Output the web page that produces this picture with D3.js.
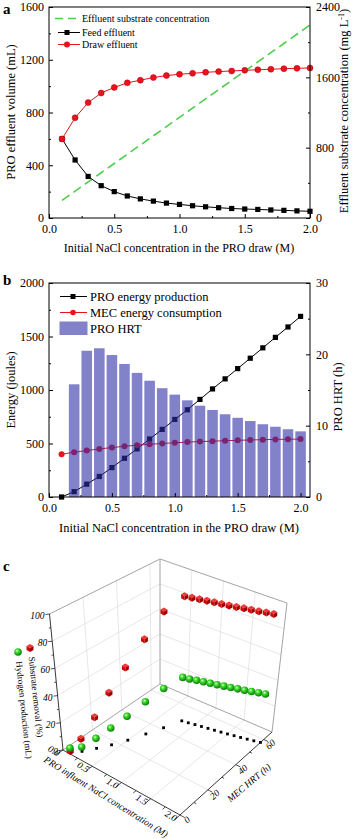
<!DOCTYPE html>
<html><head><meta charset="utf-8">
<script src="https://cdn.jsdelivr.net/npm/d3@7"></script>
<style>
body{margin:0;background:#fff}
svg{display:block}
text{font-family:"Liberation Serif","Times New Roman",serif;fill:#000}
</style></head>
<body><svg id="chart" width="359" height="839"></svg>
<script>
// ---------- DATA ----------
const nacl = [0.1,0.2,0.3,0.4,0.5,0.6,0.7,0.8,0.9,1.0,1.1,1.2,1.3,1.4,1.5,1.6,1.7,1.8,1.9,2.0];
// panel a
const feedEffluent = [600,440,315,245,200,167,145,128,113,103,93,85,78,72,68,65,61,58,54,51];
const drawEffluent = [600,760,875,948,990,1025,1045,1065,1080,1090,1097,1105,1110,1115,1120,1124,1128,1132,1135,1138];
const effluentSubstrate = [200,305,410,515,620,725,830,935,1040,1145,1250,1355,1460,1565,1670,1775,1880,1985,2090,2195];
// panel b
const proEnergy = [0,50,120,192,275,362,450,542,632,725,815,912,1010,1104,1200,1297,1394,1492,1589,1688];
const mecEnergy = [400,418,434,449,462,474,484,493,500,507,513,518,522,526,530,533,536,538,540,541];
const hrtNacl = [0.2,0.3,0.4,0.5,0.6,0.7,0.8,0.9,1.0,1.1,1.2,1.3,1.4,1.5,1.6,1.7,1.8,1.9,2.0];
const proHRT = [15.8,20.5,20.85,19.9,18.65,17.4,16.3,15.25,14.35,13.55,12.8,12.2,11.6,11.1,10.65,10.2,9.85,9.5,9.2];
// panel c
const mecHRT = [1,5,11,17.3,24.5,33,41.3,50,50.6,51.3,51.9,52.5,53.1,53.7,54.3,55,55.6,56.3,57,57.7];
const substrateRemoval = [1,9.4,23,38.8,54.6,72,89,96.4,96.6,96.8,97,97.2,97.3,97.5,97.7,97.9,98.1,98.2,98.4,98.5];
const hydrogenProd = [3,3.2,7.4,12.5,18,24.4,30,33.6,33.9,34.2,34.5,34.8,35.1,35.4,35.7,36,36.3,36.6,36.9,37.2];
// tick labels
const xTicks = [0,0.5,1.0,1.5,2.0];
const aLeftTicks = [0,400,800,1200,1600];
const aRightTicks = [0,800,1600,2400];
const bLeftTicks = [0,500,1000,1500,2000];
const bRightTicks = [0,10,20,30];
const cZTicks = [0,20,40,60,80,100];
const cXTicks = [0,0.5,1.0,1.5,2.0];
const cHTicks = [0,20,40,60];

const svg = d3.select("#chart");
const fmt1 = d3.format(".1f");

function frameAxes(g, x, yL, yR, xMinor, yLMinor, yRMinor, xt, ylt, yrt, fs){
  const [x0,x1] = x.range(), [y0,y1] = yL.range();
  const bottom = d3.axisBottom(x).tickValues(xt).tickFormat(fmt1).tickSizeInner(-4).tickSizeOuter(0).tickPadding(6);
  g.append("g").attr("transform",`translate(0,${y0})`).call(bottom);
  g.append("g").attr("transform",`translate(0,${y0})`).call(d3.axisBottom(x).tickValues(xMinor).tickFormat("").tickSizeInner(-2).tickSizeOuter(0));
  const left = d3.axisLeft(yL).tickValues(ylt).tickFormat(d3.format("d")).tickSizeInner(-4).tickSizeOuter(0).tickPadding(5);
  g.append("g").attr("transform",`translate(${x0},0)`).call(left);
  g.append("g").attr("transform",`translate(${x0},0)`).call(d3.axisLeft(yL).tickValues(yLMinor).tickFormat("").tickSizeInner(-2).tickSizeOuter(0));
  const right = d3.axisRight(yR).tickValues(yrt).tickFormat(d3.format("d")).tickSizeInner(-4).tickSizeOuter(0).tickPadding(6);
  g.append("g").attr("transform",`translate(${x1},0)`).call(right);
  g.append("g").attr("transform",`translate(${x1},0)`).call(d3.axisRight(yR).tickValues(yRMinor).tickFormat("").tickSizeInner(-2).tickSizeOuter(0));
  g.selectAll(".domain").remove();
  g.selectAll(".tick line").attr("stroke","#000").attr("stroke-width",1);
  g.selectAll(".tick text").attr("font-size",fs).attr("font-family",'"Liberation Serif",serif').attr("fill","#000");
  g.append("rect").attr("x",x0).attr("y",y1).attr("width",x1-x0).attr("height",y0-y1)
    .attr("fill","none").attr("stroke","#000").attr("stroke-width",1);
}

// ================= PANEL A =================
{
  const g = svg.append("g");
  const x = d3.scaleLinear().domain([0,2]).range([49,310]);
  const yL = d3.scaleLinear().domain([0,1600]).range([218,7]);
  const yR = d3.scaleLinear().domain([0,2400]).range([218,7]);
  const line = (ys,scale)=>d3.line().x((d,i)=>x(nacl[i])).y(d=>scale(d))(ys);
  g.append("path").attr("d",line(effluentSubstrate,yR)).attr("fill","none")
    .attr("stroke","#4ccf4c").attr("stroke-width",1.6).attr("stroke-dasharray","9,5");
  g.append("path").attr("d",line(feedEffluent,yL)).attr("fill","none").attr("stroke","#000").attr("stroke-width",1);
  g.append("path").attr("d",line(drawEffluent,yL)).attr("fill","none").attr("stroke","#e8141c").attr("stroke-width",1);
  g.selectAll(".sq").data(feedEffluent).join("rect")
    .attr("x",(d,i)=>x(nacl[i])-2.6).attr("y",d=>yL(d)-2.6).attr("width",5.2).attr("height",5.2).attr("fill","#000");
  g.selectAll(".ci").data(drawEffluent).join("circle")
    .attr("cx",(d,i)=>x(nacl[i])).attr("cy",d=>yL(d)).attr("r",3).attr("fill","#e8141c").attr("stroke","#b00010").attr("stroke-width",0.5);
  frameAxes(g,x,yL,yR,[0.25,0.75,1.25,1.75],[200,600,1000,1400],[400,1200,2000],xTicks,aLeftTicks,aRightTicks,12);
  // legend
  g.append("line").attr("x1",55).attr("x2",79).attr("y1",18.5).attr("y2",18.5).attr("stroke","#4ccf4c").attr("stroke-width",1.6).attr("stroke-dasharray","8,5");
  g.append("text").attr("x",82).attr("y",22).attr("font-size",10).text("Effluent substrate concentration");
  g.append("line").attr("x1",58).attr("x2",80).attr("y1",32.5).attr("y2",32.5).attr("stroke","#000");
  g.append("rect").attr("x",64.5).attr("y",30).attr("width",5).attr("height",5).attr("fill","#000");
  g.append("text").attr("x",82).attr("y",36).attr("font-size",10).text("Feed effluent");
  g.append("line").attr("x1",58).attr("x2",80).attr("y1",44.5).attr("y2",44.5).attr("stroke","#e8141c");
  g.append("circle").attr("cx",67).attr("cy",44.5).attr("r",3).attr("fill","#e8141c");
  g.append("text").attr("x",82).attr("y",48).attr("font-size",10).text("Draw effluent");
  // titles
  g.append("text").attr("transform","translate(15,112) rotate(-90)").attr("text-anchor","middle").attr("font-size",12.5).text("PRO effluent volume (mL)");
  const rt = g.append("text").attr("transform","translate(348,111) rotate(-90)").attr("text-anchor","middle").attr("font-size",12.5);
  rt.append("tspan").text("Effluent substrate concentration (mg L");
  rt.append("tspan").attr("dy",-4).attr("font-size",8).text("-1");
  rt.append("tspan").attr("dy",4).text(")");
  g.append("text").attr("x",179).attr("y",252).attr("text-anchor","middle").attr("font-size",12).text("Initial NaCl concentration in the PRO draw (M)");
  g.append("text").attr("x",3).attr("y",14).attr("font-size",15).attr("font-weight","bold").text("a");
}

// ================= PANEL B =================
{
  const g = svg.append("g");
  const x = d3.scaleLinear().domain([0,2.075]).range([49,310]);
  const yL = d3.scaleLinear().domain([0,2000]).range([497,283]);
  const yR = d3.scaleLinear().domain([0,30]).range([497,283]);
  const line = (ys)=>d3.line().x((d,i)=>x(nacl[i])).y(d=>yL(d))(ys);
  g.append("path").attr("d",line(proEnergy)).attr("fill","none").attr("stroke","#000").attr("stroke-width",1);
  g.append("path").attr("d",line(mecEnergy)).attr("fill","none").attr("stroke","#e8141c").attr("stroke-width",1);
  g.selectAll(".sq").data(proEnergy).join("rect")
    .attr("x",(d,i)=>x(nacl[i])-2.6).attr("y",d=>yL(d)-2.6).attr("width",5.2).attr("height",5.2).attr("fill","#000");
  g.selectAll(".ci").data(mecEnergy).join("circle")
    .attr("cx",(d,i)=>x(nacl[i])).attr("cy",d=>yL(d)).attr("r",3).attr("fill","#e8141c");
  const bw = (x(0.1)-x(0))*0.84;
  g.selectAll(".bar").data(proHRT).join("rect")
    .attr("x",(d,i)=>x(hrtNacl[i])-bw/2).attr("y",d=>yR(d)).attr("width",bw).attr("height",d=>yR(0)-yR(d))
    .attr("fill","rgb(46,46,166)").attr("fill-opacity",0.6);
  frameAxes(g,x,yL,yR,[0.25,0.75,1.25,1.75],[250,750,1250,1750],[5,15,25],xTicks,bLeftTicks,bRightTicks,12);
  // legend
  g.append("line").attr("x1",60).attr("x2",87).attr("y1",296.5).attr("y2",296.5).attr("stroke","#000");
  g.append("rect").attr("x",70.5).attr("y",294).attr("width",5).attr("height",5).attr("fill","#000");
  g.append("text").attr("x",90).attr("y",301).attr("font-size",12.5).text("PRO energy production");
  g.append("line").attr("x1",60).attr("x2",87).attr("y1",312.5).attr("y2",312.5).attr("stroke","#e8141c");
  g.append("circle").attr("cx",73).attr("cy",312.5).attr("r",2.8).attr("fill","#e8141c");
  g.append("text").attr("x",90).attr("y",317).attr("font-size",12.5).text("MEC energy consumption");
  g.append("rect").attr("x",59.5).attr("y",321.5).attr("width",28).attr("height",13.5).attr("fill","rgb(46,46,166)").attr("fill-opacity",0.6);
  g.append("text").attr("x",90).attr("y",333).attr("font-size",12.5).text("PRO HRT");
  // titles
  g.append("text").attr("transform","translate(15,390) rotate(-90)").attr("text-anchor","middle").attr("font-size",12.5).text("Energy (joules)");
  g.append("text").attr("transform","translate(342,397) rotate(-90)").attr("text-anchor","middle").attr("font-size",12.5).text("PRO HRT (h)");
  g.append("text").attr("x",179).attr("y",532).attr("text-anchor","middle").attr("font-size",12.5).text("Initial NaCl concentration in the PRO draw (M)");
  g.append("text").attr("x",3).attr("y",285).attr("font-size",15).attr("font-weight","bold").text("b");
}

// ================= PANEL C (3D) =================
{
  const g = svg.append("g");
  const X3 = d3.scaleLinear().domain([0,2]).range([0,1]);
  const Y3 = d3.scaleLinear().domain([0,66]).range([0,1]);
  const Z3 = d3.scaleLinear().domain([0,100]).range([0,1]);
  const K = {c000:[63,750], c100:[180,815], c110:[272,732], c010:[160,684],
             c001:[49.5,614], c101:[183.6,675], c111:[287,603], c011:[160,559]};
  const lerp=(a,b,t)=>[a[0]+(b[0]-a[0])*t, a[1]+(b[1]-a[1])*t];
  function proj(xv,hv,zv){
    const u=X3(xv), v=Y3(hv), w=Z3(zv);
    const f0 = lerp(lerp(K.c000,K.c100,u), lerp(K.c010,K.c110,u), v);
    const f1 = lerp(lerp(K.c001,K.c101,u), lerp(K.c011,K.c111,u), v);
    return lerp(f0,f1,w);
  }
  const Hmax = Y3.domain()[1];
  const seg = (p,q,col,sw)=>g.append("line").attr("x1",p[0]).attr("y1",p[1]).attr("x2",q[0]).attr("y2",q[1]).attr("stroke",col).attr("stroke-width",sw);
  const gridC = "#dcdcdc";
  [0.5,1.0,1.5].forEach(xv=>seg(proj(xv,0,0),proj(xv,Hmax,0),gridC,0.7));
  [20,40,60].forEach(h=>seg(proj(0,h,0),proj(2,h,0),gridC,0.7));
  [20,40,60,80].forEach(z=>seg(proj(0,0,z),proj(0,Hmax,z),gridC,0.7));
  [20,40,60].forEach(h=>seg(proj(0,h,0),proj(0,h,100),gridC,0.7));
  [20,40,60,80].forEach(z=>seg(proj(0,Hmax,z),proj(2,Hmax,z),gridC,0.7));
  [0.5,1.0,1.5].forEach(xv=>seg(proj(xv,Hmax,0),proj(xv,Hmax,100),gridC,0.7));
  const edgeC="#9a9a9a";
  seg(proj(0,0,100),proj(0,Hmax,100),edgeC,0.9);
  seg(proj(0,Hmax,100),proj(2,Hmax,100),edgeC,0.9);
  seg(proj(0,Hmax,0),proj(0,Hmax,100),edgeC,0.9);
  seg(proj(2,Hmax,0),proj(2,Hmax,100),edgeC,0.9);
  seg(proj(0,0,0),proj(0,Hmax,0),edgeC,0.9);
  seg(proj(0,Hmax,0),proj(2,Hmax,0),edgeC,0.9);
  const axC="#222";
  seg(proj(0,0,0),proj(0,0,100),axC,0.9);
  seg(proj(0,0,0),proj(2,0,0),axC,0.9);
  seg(proj(2,0,0),proj(2,Hmax,0),axC,0.9);
  [0,10,20,30,40,50,60,70,80,90,100].forEach(z=>{
    const p=proj(0,0,z), L = (z%20===0)?4:2;
    seg(p,[p[0]-L,p[1]+0.5],axC,0.8);
  });
  cZTicks.forEach(z=>{
    const p=proj(0,0,z);
    g.append("text").attr("x",p[0]-5).attr("y",p[1]+5).attr("text-anchor","end").attr("font-size",9.5).attr("font-style","italic").text(z);
  });
  [0,0.25,0.5,0.75,1.0,1.25,1.5,1.75,2.0].forEach(xv=>{
    const p=proj(xv,0,0), q=proj(xv,(xv%0.5===0)?-4:-2,0);
    seg(p,q,axC,0.8);
  });
  cXTicks.forEach(xv=>{
    const p=proj(xv,0,0);
    g.append("text").attr("transform",`translate(${p[0]-9},${p[1]+1}) rotate(31)`).attr("text-anchor","middle")
      .attr("dominant-baseline","central").attr("font-size",9.5).attr("font-style","italic").text(fmt1(xv));
  });
  [0,10,20,30,40,50,60].forEach(h=>{
    const p=proj(2,h,0), q=proj((h%20===0)?2.08:2.04,h,0);
    seg(p,q,axC,0.8);
  });
  cHTicks.forEach(h=>{
    const p=proj(2,h,0);
    g.append("text").attr("transform",`translate(${p[0]+7},${p[1]+5}) rotate(-41)`).attr("text-anchor","middle")
      .attr("dominant-baseline","central").attr("font-size",9.5).attr("font-style","italic").text(h);
  });
  g.append("text").attr("transform","translate(106,797) rotate(32)").attr("text-anchor","middle").attr("dominant-baseline","central")
    .attr("font-size",9.5).attr("font-style","italic").text("PRO influent NaCl concentration (M)");
  g.append("text").attr("transform","translate(249,783) rotate(-40)").attr("text-anchor","middle").attr("dominant-baseline","central")
    .attr("font-size",9.5).attr("font-style","italic").text("MEC HRT (h)");
  g.append("text").attr("transform","translate(36,697) rotate(84)").attr("text-anchor","middle").attr("dominant-baseline","central")
    .attr("font-size",9).text("Substrate removal (%)");
  g.append("text").attr("transform","translate(24,710) rotate(84)").attr("text-anchor","middle").attr("dominant-baseline","central")
    .attr("font-size",9).text("Hydrogen production (mL)");

  const defs = svg.append("defs");
  const rg = defs.append("radialGradient").attr("id","ball").attr("cx","38%").attr("cy","35%").attr("r","65%");
  rg.append("stop").attr("offset","0%").attr("stop-color","#d8ffc8");
  rg.append("stop").attr("offset","35%").attr("stop-color","#3ddc2a");
  rg.append("stop").attr("offset","100%").attr("stop-color","#0b7a0b");
  function cube(sel, p, s){
    const c=0.87*s;
    const gg = sel.append("g").attr("transform",`translate(${p[0]},${p[1]})`);
    gg.append("path").attr("d",`M0,${-s}L${c},${-s/2}L0,0L${-c},${-s/2}Z`).attr("fill","#f03a3a");
    gg.append("path").attr("d",`M${-c},${-s/2}L0,0L0,${s}L${-c},${s/2}Z`).attr("fill","#cc0a0a");
    gg.append("path").attr("d",`M0,0L${c},${-s/2}L${c},${s/2}L0,${s}Z`).attr("fill","#a00000");
  }
  nacl.forEach((xv,i)=>{
    const p=proj(xv,mecHRT[i],0);
    g.append("rect").attr("x",p[0]-1.4).attr("y",p[1]-1.4).attr("width",2.8).attr("height",2.8).attr("fill","#000");
  });
  nacl.forEach((xv,i)=>cube(g,proj(xv,mecHRT[i],substrateRemoval[i]),4));
  nacl.forEach((xv,i)=>{
    const p=proj(xv,mecHRT[i],hydrogenProd[i]);
    g.append("circle").attr("cx",p[0]).attr("cy",p[1]).attr("r",3.8).attr("fill","url(#ball)");
  });
  g.append("circle").attr("cx",18).attr("cy",652).attr("r",3.8).attr("fill","url(#ball)");
  cube(g,[30,648],4);
  g.append("text").attr("x",3).attr("y",571).attr("font-size",15).attr("font-weight","bold").text("c");
}
</script></body></html>
